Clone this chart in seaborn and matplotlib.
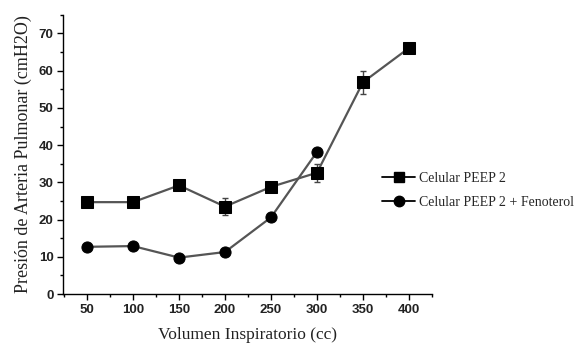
import matplotlib
matplotlib.use("Agg")
import matplotlib.pyplot as plt
import seaborn as sns
import pandas as pd
from matplotlib.ticker import MultipleLocator
from matplotlib.lines import Line2D

volumen = [50, 100, 150, 200, 250, 300, 350, 400]
peep2 = [24.7, 24.7, 29.2, 23.5, 28.8, 32.6, 56.9, 66.1]
peep2_err = [1.0, 1.0, 0.5, 2.2, 1.0, 2.4, 3.1, 0.8]
vol_feno = [50, 100, 150, 200, 250, 300]
peep2_feno = [12.7, 12.9, 9.8, 11.3, 20.6, 38.2]
series_names = ["Celular PEEP 2", "Celular PEEP 2 + Fenoterol"]
x_ticks = [50, 100, 150, 200, 250, 300, 350, 400]
y_ticks = [0, 10, 20, 30, 40, 50, 60, 70]

sns.set_style("white")

df = pd.concat([
    pd.DataFrame({"vol": volumen, "p": peep2, "serie": series_names[0]}),
    pd.DataFrame({"vol": vol_feno, "p": peep2_feno, "serie": series_names[1]}),
])

fig = plt.figure(figsize=(5.79, 3.46), dpi=100)
ax = fig.add_axes([0.109, 0.150, 0.637, 0.807])

line_col = "#555555"
sns.lineplot(data=df, x="vol", y="p", hue="serie", style="serie",
             markers={series_names[0]: "s", series_names[1]: "o"},
             dashes=False, palette={series_names[0]: line_col, series_names[1]: line_col},
             markersize=8, markerfacecolor="black", markeredgecolor="black",
             linewidth=1.6, ax=ax, legend=False, zorder=3)
ax.errorbar(volumen, peep2, yerr=peep2_err, fmt="none", ecolor="#444444",
            elinewidth=1.0, capsize=2.5, capthick=1.0, zorder=2)

ax.set_xlim(24, 425)
ax.set_ylim(0, 75)
ax.set_xticks(x_ticks)
ax.set_yticks(y_ticks)
ax.xaxis.set_minor_locator(MultipleLocator(25))
ax.yaxis.set_minor_locator(MultipleLocator(5))
ax.tick_params(axis="both", which="major", direction="out", length=4, width=1,
               color="black", labelsize=9.5, pad=3)
ax.tick_params(axis="both", which="minor", direction="out", length=2, width=1, color="black")
ax.tick_params(bottom=True, left=True, which="both")
for lab in ax.get_xticklabels() + ax.get_yticklabels():
    lab.set_fontfamily("Liberation Sans")
    lab.set_fontweight("bold")
    lab.set_color("#222222")

for s in ["top", "right"]:
    ax.spines[s].set_visible(False)
for s in ["left", "bottom"]:
    ax.spines[s].set_color("black")
    ax.spines[s].set_linewidth(1.0)

ax.set_xlabel("Volumen Inspiratorio (cc)", fontfamily="Liberation Serif", fontsize=12.5,
              labelpad=8, color="#222222")
ax.set_ylabel("Presión de Arteria Pulmonar (cmH2O)", fontfamily="Liberation Serif",
              fontsize=13, labelpad=5, color="#222222")

handles = [
    Line2D([0], [0], color="black", lw=1.3, marker="s", markersize=6.5,
           markerfacecolor="black"),
    Line2D([0], [0], color="black", lw=1.3, marker="o", markersize=7.5,
           markerfacecolor="black"),
]
fig.legend(handles, series_names, loc="upper left", bbox_to_anchor=(0.638, 0.54),
           frameon=False, prop={"family": "Liberation Serif", "size": 10},
           handlelength=2.4, handletextpad=0.3, labelspacing=0.8)

fig.savefig("out.png", dpi=100)
